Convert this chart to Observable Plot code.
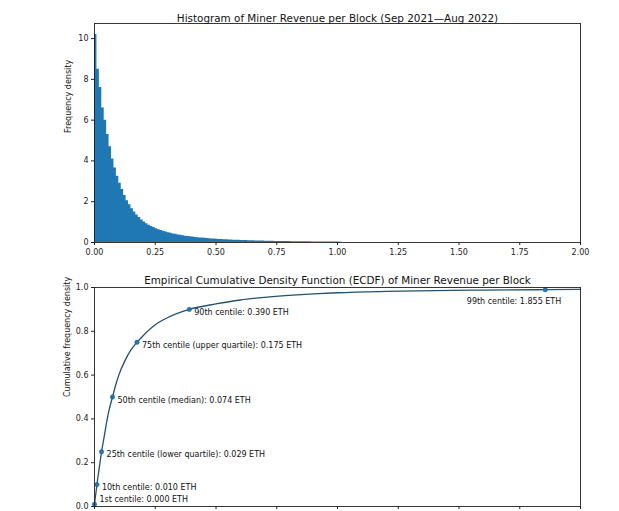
<!DOCTYPE html>
<html>
<head>
<meta charset="utf-8">
<script src="https://cdn.jsdelivr.net/npm/d3@7"></script>
<script src="https://cdn.jsdelivr.net/npm/@observablehq/plot@0.6"></script>
<style>
  html, body { margin: 0; padding: 0; background: #fff; overflow: hidden; width: 619px; height: 511px; }
  #chart svg { display: block; max-width: none; }
</style>
</head>
<body>
<div id="chart"></div>
<script>
// ---- Data ----
const histTitle = "Histogram of Miner Revenue per Block (Sep 2021\u2014Aug 2022)";
const ecdfTitle = "Empirical Cumulative Density Function (ECDF) of Miner Revenue per Block";
const binWidth = 0.01; // ETH
// frequency density per 0.01 ETH bin, starting at 0.00
const binDensity = [
  10.2, 8.5, 7.6, 6.6, 6.0, 5.3, 4.7, 4.1, 3.65, 3.25,
  2.9, 2.6, 2.3, 2.05, 1.85, 1.65, 1.5, 1.35, 1.22, 1.1,
  1.0, 0.92, 0.85, 0.79, 0.73, 0.68, 0.63, 0.59, 0.55, 0.51,
  0.48, 0.45, 0.42, 0.4, 0.37, 0.35, 0.33, 0.31, 0.295, 0.28,
  0.265, 0.25, 0.238, 0.226, 0.215, 0.204, 0.194, 0.184, 0.175, 0.167,
  0.159, 0.152, 0.145, 0.138, 0.132, 0.126, 0.12, 0.115, 0.11, 0.105,
  0.1, 0.096, 0.092, 0.088, 0.084, 0.08, 0.077, 0.074, 0.071, 0.068,
  0.065, 0.062, 0.06, 0.057, 0.055, 0.053, 0.051, 0.049, 0.047, 0.045,
  0.043, 0.041, 0.04, 0.038, 0.037, 0.035, 0.034, 0.033, 0.031, 0.03,
  0.029, 0.028, 0.027, 0.026, 0.025, 0.024, 0.023, 0.022, 0.021, 0.02,
  0.019, 0.017
];
// ECDF curve points
const ecdfX = [0, 0.0005, 0.005, 0.010, 0.02, 0.029, 0.04, 0.05, 0.06, 0.074, 0.09, 0.10, 0.125, 0.15, 0.175, 0.2, 0.25, 0.3, 0.39, 0.5, 0.6, 0.7, 0.8, 0.9, 1.0, 1.2, 1.4, 1.6, 1.855, 2.0];
const ecdfY = [0, 0.01, 0.055, 0.10, 0.18, 0.25, 0.32, 0.385, 0.44, 0.50, 0.565, 0.60, 0.665, 0.715, 0.75, 0.78, 0.83, 0.862, 0.90, 0.925, 0.943, 0.955, 0.964, 0.971, 0.976, 0.982, 0.986, 0.988, 0.99, 0.991];
// centile markers
const centileX = [0.000, 0.010, 0.029, 0.074, 0.175, 0.390, 1.855];
const centileY = [0.01, 0.10, 0.25, 0.50, 0.75, 0.90, 0.99];
const centileLabel = [
  "1st centile: 0.000 ETH",
  "10th centile: 0.010 ETH",
  "25th centile (lower quartile): 0.029 ETH",
  "50th centile (median): 0.074 ETH",
  "75th centile (upper quartile): 0.175 ETH",
  "90th centile: 0.390 ETH",
  "99th centile: 1.855 ETH"
];
const xTicks = [0, 0.25, 0.5, 0.75, 1.0, 1.25, 1.5, 1.75, 2.0];
const histYTicks = [0, 2, 4, 6, 8, 10];
const ecdfYTicks = [0, 0.2, 0.4, 0.6, 0.8, 1.0];

// ---- Derived tables ----
// step outline of the histogram: each bin's left edge, plus the final right edge
const steps = binDensity.map((d, i) => ({x: i * binWidth, y: d}));
steps.push({x: binDensity.length * binWidth, y: binDensity[binDensity.length - 1]});
const ecdf = ecdfX.map((x, i) => ({x, y: ecdfY[i]}));
const centiles = centileX.map((x, i) => ({x, y: centileY[i], label: centileLabel[i]}));
const normal = centiles.filter((d, i) => i > 0 && i < 6);
const first = centiles.slice(0, 1);
const last = centiles.slice(6);

const FONT = "DejaVu Sans, sans-serif";
const BLUE = "#1f77b4";

const hist = Plot.plot({
  width: 619, height: 262,
  marginTop: 23, marginBottom: 20, marginLeft: 94, marginRight: 39,
  style: {fontFamily: FONT, fontSize: "8px", color: "#222", background: "#fff"},
  x: {domain: [0, 2], ticks: xTicks, tickFormat: d3.format(".2f"), tickSize: 3, tickPadding: 4, label: null},
  y: {domain: [0, 10.74], ticks: histYTicks, tickFormat: d3.format("d"), tickSize: 3, tickPadding: 3, label: null},
  marks: [
    Plot.areaY(steps, {x: "x", y: "y", curve: "step-after", fill: BLUE}),
    Plot.frame({stroke: "#222", strokeWidth: 0.9}),
    Plot.text([histTitle], {frameAnchor: "top", dy: -9, fontSize: 10.4, fill: "#111"}),
    Plot.text(["Frequency density"], {frameAnchor: "left", dx: -26, rotate: -90, fontSize: 8, fill: "#111"})
  ]
});

const cdf = Plot.plot({
  width: 619, height: 270,
  marginTop: 25, marginBottom: 26, marginLeft: 94, marginRight: 39,
  style: {fontFamily: FONT, fontSize: "8px", color: "#222", background: "#fff"},
  // tick labels fall below the visible window in the reference, only tick marks show
  x: {domain: [0, 2], ticks: xTicks, tickFormat: () => "", tickSize: 3, tickPadding: 4, label: null},
  y: {domain: [0, 1], ticks: ecdfYTicks, tickFormat: d3.format(".1f"), tickSize: 3, tickPadding: 3, label: null},
  marks: [
    Plot.line(ecdf, {x: "x", y: "y", stroke: "#24506f", strokeWidth: 1.3, curve: "monotone-x"}),
    Plot.dot(centiles, {x: "x", y: "y", r: 2.2, fill: BLUE, stroke: "#1a5d8f", strokeWidth: 0.5}),
    Plot.text(normal, {x: "x", y: "y", text: "label", textAnchor: "start", dx: 5, dy: 3, fontSize: 8, fill: "#111"}),
    Plot.text(first, {x: "x", y: "y", text: "label", textAnchor: "start", dx: 5, dy: -5, fontSize: 8, fill: "#111"}),
    Plot.text(last, {x: "x", y: "y", text: "label", textAnchor: "end", dx: 16, dy: 12, fontSize: 8, fill: "#111"}),
    Plot.frame({stroke: "#222", strokeWidth: 0.9}),
    Plot.text([ecdfTitle], {frameAnchor: "top", dy: -11, fontSize: 10.4, fill: "#111"}),
    Plot.text(["Cumulative frequency density"], {frameAnchor: "left", dx: -27, rotate: -90, fontSize: 8, fill: "#111"})
  ]
});

const root = document.getElementById("chart");
root.appendChild(hist);
root.appendChild(cdf);
</script>
</body>
</html>
